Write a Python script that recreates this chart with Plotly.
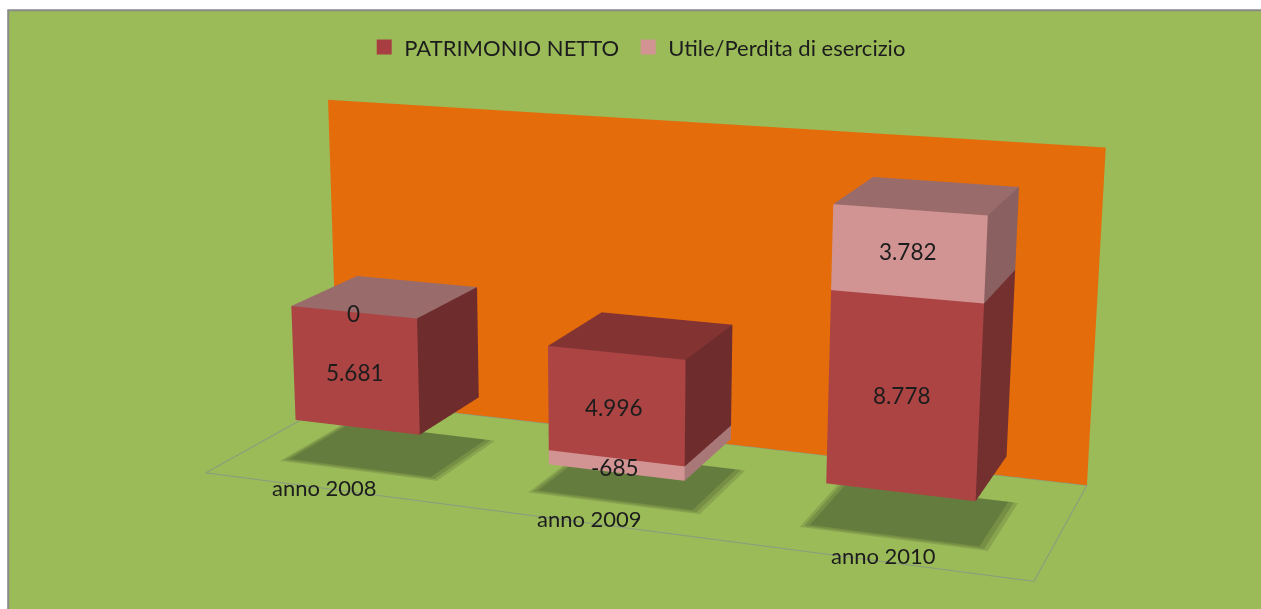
import numpy as np
import plotly.graph_objects as go

categories = ["anno 2008", "anno 2009", "anno 2010"]
patrimonio = [5681, 4996, 8778]
utile = [0, -685, 3782]
labels_p = ["5.681", "4.996", "8.778"]
labels_u = ["0", "-685", "3.782"]
labels_p_xy = [(354.5, 372), (614, 407), (902, 395)]
labels_u_xy = [(353, 313), (615, 467), (908, 251)]
labels_c_xy = [(324, 487), (589, 518), (883, 555)]

# Scene geometry and camera of the 3D view
W, D, H = 1.748, 0.58712, 0.70918
BAR_X0, BAR_DX, BAR_W, BAR_Y, BAR_D = -0.55973, 0.57864, 0.29016, -0.2043, 0.29292
Z0, ZS = -0.24489, 4.3572e-05
SH_DX, SH_W, SH_Y, SH_D = -0.02, 0.34753, -0.16433, 0.28408
EYE = dict(x=1.518, y=-4.0994, z=1.109)
CENTER = dict(x=-0.042207, y=-0.062383, z=0.010404)
UP = dict(x=0.0035556, y=0.0036824, z=1)
FOCAL, PX, PY = 2197.5, 612.79, 314.77

TAN = np.tan(np.pi / 8)
FIG_H = int(round(2*FOCAL*TAN))
FIG_W = int(2*max(PX, 1261-PX)) + 4
OX = FIG_W/2 - PX
OY = FIG_H/2 - PY
def fx(x): return (x + OX)/FIG_W
def fy(y): return 1 - (y + OY)/FIG_H

PAD = 1.1
Wp, Dp, Hp = W*PAD, D*PAD, H*PAD
xr = [-Wp/2, Wp/2]; yr = [-Dp/2, Dp/2]
zr = [(-Hp/2 - Z0)/ZS, (Hp/2 - Z0)/ZS]
zf = (-H/2 - Z0)/ZS
zt = (H/2 - Z0)/ZS
FLAT = dict(ambient=1, diffuse=0, specular=0, fresnel=0, roughness=1)

def quad(xs, ys, zs_, color):
    return go.Mesh3d(x=xs, y=ys, z=zs_, i=[0, 0], j=[1, 2], k=[2, 3], facecolor=[color]*2, flatshading=True,
                     lighting=FLAT, hoverinfo='skip', showlegend=False)

def faces(x0, x1, y0, y1, a, b, front, right, top=None):
    out = [quad([x1, x1, x1, x1], [y0, y1, y1, y0], [a, a, b, b], right)]
    if top:
        out.append(quad([x0, x1, x1, x0], [y0, y0, y1, y1], [b, b, b, b], top))
    out.append(quad([x0, x1, x1, x0], [y0, y0, y0, y0], [a, a, b, b], front))
    return out

traces = [quad([-W/2, W/2, W/2, -W/2], [D/2]*4, [zf, zf, zt, zt], '#E46C0A')]
traces.append(go.Scatter3d(x=[-W/2, -W/2, W/2, W/2, -W/2], y=[D/2, -D/2, -D/2, D/2, D/2], z=[zf]*5, mode='lines',
                           line=dict(color='#8A9A80', width=2), hoverinfo='skip', showlegend=False))
cs = [BAR_X0 + n*BAR_DX for n in range(3)]
for n in range(3):
    c0 = cs[n] + SH_DX
    for lift, grow, col in [(40, 0.012, '#88A44E'), (80, 0.004, '#768F45'), (120, -0.006, '#647D3E')]:
        traces.append(quad([c0-SH_W/2-grow, c0+SH_W/2+grow, c0+SH_W/2+grow, c0-SH_W/2-grow],
                           [SH_Y-grow/2, SH_Y-grow/2, SH_Y+SH_D+grow/2, SH_Y+SH_D+grow/2], [zf+lift]*4, col))
for n in range(3):
    x0, x1 = cs[n]-BAR_W/2, cs[n]+BAR_W/2
    y0, y1 = BAR_Y, BAR_Y+BAR_D
    pv, uv = patrimonio[n], utile[n]
    if uv < 0:
        traces += faces(x0, x1, y0, y1, uv, 0, '#D29393', '#A87878')
        traces += faces(x0, x1, y0, y1, 0, pv, '#AC4444', '#6F2C2C', '#843333')
    elif uv == 0:
        traces += faces(x0, x1, y0, y1, 0, pv, '#AC4444', '#6F2C2C', '#996B6B')
    else:
        traces += faces(x0, x1, y0, y1, 0, pv, '#AC4444', '#742F2F')
        traces += faces(x0, x1, y0, y1, pv, pv+uv, '#D29393', '#8A6060', '#996B6B')
traces.append(go.Scatter3d(x=[None], y=[None], z=[None], mode='markers', name='PATRIMONIO NETTO', legendwidth=219,
                           marker=dict(symbol='square', size=15, color='#A83E42')))
traces.append(go.Scatter3d(x=[None], y=[None], z=[None], mode='markers', name='Utile/Perdita di esercizio', legendwidth=262,
                           marker=dict(symbol='square', size=15, color='#D29393')))

num_font = dict(family='Lato', size=22.5, color='#1C1C1C')
cat_font = dict(family='Lato', size=22, color='#1C1C1C')
ann = []
for t, (x, y) in zip(labels_p + labels_u, labels_p_xy + labels_u_xy):
    ann.append(dict(xref='paper', yref='paper', x=fx(x), y=fy(y), text=t, showarrow=False, font=num_font,
                    xanchor='center', yanchor='middle'))
for t, (x, y) in zip(categories, labels_c_xy):
    ann.append(dict(xref='paper', yref='paper', x=fx(x), y=fy(y), text=t, showarrow=False, font=cat_font,
                    xanchor='center', yanchor='middle'))

fig = go.Figure(traces)
fig.update_layout(
    width=FIG_W, height=FIG_H, margin=dict(l=0, r=0, t=0, b=0), paper_bgcolor='white',
    shapes=[dict(type='rect', xref='paper', yref='paper', x0=fx(8), x1=1.01, y0=-0.01, y1=fy(10),
                 fillcolor='#9BBB59', line=dict(color='#8A8A8A', width=2), layer='below')],
    scene=dict(domain=dict(x=[0, 1], y=[0, 1]), bgcolor='rgba(0,0,0,0)', aspectmode='manual',
               aspectratio=dict(x=Wp, y=Dp, z=Hp),
               xaxis=dict(visible=False, range=xr), yaxis=dict(visible=False, range=yr), zaxis=dict(visible=False, range=zr),
               camera=dict(eye=EYE, center=CENTER, up=UP, projection=dict(type='perspective'))),
    legend=dict(orientation='h', x=fx(364), xanchor='left', y=fy(47), yanchor='middle',
                font=dict(family='Lato', size=22, color='#1C1C1C'), bgcolor='rgba(0,0,0,0)'),
    annotations=ann,
)
post = ("var d=document.querySelector('.plotly-graph-div');d.style.position='fixed';d.style.left='%dpx';d.style.top='%dpx';"
        "document.documentElement.style.overflow='hidden';document.body.style.overflow='hidden';" % (-round(OX), -round(OY)))
fig.write_html('out.html', post_script=post)
